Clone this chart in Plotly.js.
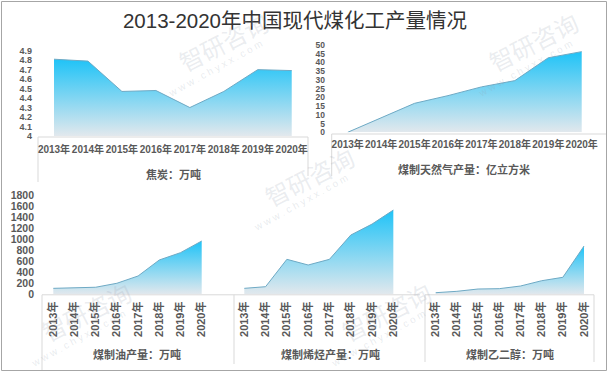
<!DOCTYPE html>
<html><head><meta charset="utf-8">
<script src="https://cdn.plot.ly/plotly-3.0.1.min.js"></script>
<style>html,body{margin:0;padding:0;background:#fff}#chart{width:608px;height:372px}</style>
</head><body><div id="chart"></div>
<script>
// ---- data ----
const years = ['2013年','2014年','2015年','2016年','2017年','2018年','2019年','2020年'];
const coke   = [4.81, 4.79, 4.47, 4.48, 4.30, 4.47, 4.70, 4.69];   // 焦炭：万吨
const sng    = [0, 8.3, 16.6, 21.0, 26.0, 29.6, 42.7, 46.2];       // 煤制天然气：亿立方米
const oil    = [108, 115, 128, 200, 332, 622, 755, 966];           // 煤制油：万吨
const olefin = [108, 138, 634, 531, 634, 1074, 1273, 1527];        // 煤制烯烃：万吨
const glycol = [29, 54, 96, 102, 150, 246, 308, 875];              // 煤制乙二醇：万吨
const cokeTickVals = [4, 4.1, 4.2, 4.3, 4.4, 4.5, 4.6, 4.7, 4.8, 4.9];
const cokeTickText = ['4','4.1','4.2','4.3','4.4','4.5','4.6','4.7','4.8','4.9'];
const sngTickVals  = [0,5,10,15,20,25,30,35,40,45,50];
const bigTickVals  = [0,200,400,600,800,1000,1200,1400,1600,1800];
const chartTitle = '2013-2020年中国现代煤化工产量情况';
const axisTitles = ['焦炭：万吨','煤制天然气产量：亿立方米','煤制油产量：万吨','煤制烯烃产量：万吨','煤制乙二醇：万吨'];

// ---- helpers ----
const W = 608, H = 372;
const px = x => x / W, py = y => 1 - y / H;
const FONT = 'Liberation Sans, Noto Sans CJK SC, sans-serif';
const GREY = '#595959';

function xAxis(L, R, c0, step, opt) {
  return Object.assign({
    type: 'category', categoryorder: 'array', categoryarray: years,
    domain: [px(L), px(R)], range: [(L - c0) / step, (R - c0) / step],
    showgrid: false, zeroline: false, showline: false, ticks: '', fixedrange: true,
    tickangle: 0,
    tickfont: {family: FONT, size: 10, color: GREY, weight: 'bold'}
  }, opt);
}
function yAxis(B, T, base, ppu, opt) {
  return Object.assign({
    domain: [py(B), py(T)], range: [base, base + (B - T) / ppu],
    showgrid: false, zeroline: false, showline: false, ticks: '', fixedrange: true,
    tickfont: {family: FONT, size: 10, color: GREY, weight: 'bold'}
  }, opt);
}
function area(y, xa, ya, base) {
  return {
    type: 'scatter', mode: 'lines', x: years, y: y, xaxis: xa, yaxis: ya,
    fill: 'tozeroy', line: {color: '#6ea9c4', width: 1}, hoverinfo: 'skip',
    fillgradient: {type: 'vertical', start: base, stop: Math.max(...y),
      colorscale: [[0, '#e2e8ed'], [1, '#1fc3f7']]}
  };
}

const data = [
  area(coke, 'x', 'y', 4),
  area(sng, 'x2', 'y2', 0),
  area(oil, 'x3', 'y3', 0),
  area(olefin, 'x4', 'y4', 0),
  area(glycol, 'x5', 'y5', 0)
];

const rotFont = {family: FONT, size: 11, color: GREY, weight: 'bold'};
const layout = {
  width: W, height: H, margin: {l: 0, r: 0, t: 0, b: 0},
  paper_bgcolor: '#ffffff', plot_bgcolor: 'rgba(0,0,0,0)', showlegend: false,
  title: {text: chartTitle, x: px(295), xanchor: 'center', y: py(21), yanchor: 'middle',
    font: {family: FONT, size: 20.5, color: '#333333'}},
  xaxis:  xAxis(33, 306, 54, 33.96, {anchor: 'y', ticklabelstandoff: 6}),
  yaxis:  yAxis(136, 45, 4, 94.8, {anchor: 'x', tickvals: cokeTickVals, ticktext: cokeTickText,
    tickfont: {family: FONT, size: 9, color: GREY, weight: 'bold'}}),
  xaxis2: xAxis(326, 604, 347.7, 33.43, {anchor: 'y2', ticklabelstandoff: 5}),
  yaxis2: yAxis(132.3, 42, 0, 1.746, {anchor: 'x2', tickvals: sngTickVals,
    tickfont: {family: FONT, size: 8.5, color: GREY, weight: 'bold'}}),
  xaxis3: xAxis(35, 218, 53.3, 21.2, {anchor: 'y3', tickangle: -90, ticklabelstandoff: 4, tickfont: rotFont}),
  yaxis3: yAxis(294.3, 188, 0, 0.05517, {anchor: 'x3', tickvals: bigTickVals,
    tickfont: {family: FONT, size: 10.5, color: GREY, weight: 'bold'}}),
  xaxis4: xAxis(226, 414, 244.3, 21.29, {anchor: 'y4', tickangle: -90, ticklabelstandoff: 4, tickfont: rotFont}),
  yaxis4: yAxis(294.3, 188, 0, 0.05517, {anchor: 'x4', showticklabels: false}),
  xaxis5: xAxis(418, 600, 435.7, 21.19, {anchor: 'y5', tickangle: -90, ticklabelstandoff: 4, tickfont: rotFont}),
  yaxis5: yAxis(294.3, 188, 0, 0.05517, {anchor: 'x5', showticklabels: false}),
  shapes: [],
  annotations: []
};

// frame and label boxes
const box = '#d9d9d9';
function seg(x0, y0, x1, y1, c) {
  layout.shapes.push({type: 'line', xref: 'paper', yref: 'paper', x0: px(x0), y0: py(y0), x1: px(x1), y1: py(y1),
    line: {color: c || box, width: 1}, layer: 'below'});
}
seg(38, 137, 308, 137); seg(38, 137, 38, 182); seg(308, 137, 308, 176);
seg(331.7, 134, 606, 134); seg(331.7, 134, 331.7, 176);
seg(42, 294.8, 220, 294.8); seg(42, 294.8, 42, 370);
seg(220, 294.8, 420, 294.8); seg(234, 294.8, 234, 364);
seg(425, 294.8, 594, 294.8); seg(425, 294.8, 425, 362); seg(594, 294.8, 594, 362);
layout.shapes.push({type: 'rect', xref: 'paper', yref: 'paper', x0: px(1.5), y0: py(1.5), x1: px(606.5), y1: py(370.5),
  line: {color: '#a6a6a6', width: 1}, layer: 'above'});

// axis titles
const titlePos = [[173, 174], [464, 169], [137, 354], [330, 354], [510, 354]];
axisTitles.forEach((t, i) => {
  layout.annotations.push({text: t, xref: 'paper', yref: 'paper', x: px(titlePos[i][0]), y: py(titlePos[i][1]),
    xanchor: 'center', yanchor: 'middle', showarrow: false,
    font: {family: FONT, size: 11, color: GREY, weight: 'bold'}});
});

// faint watermark (brand text of the source)
const wmLogos = [[157, 73], [467, 73], [243, 208], [20, 343], [320, 343]];
wmLogos.forEach(([lx, ly]) => {
  layout.annotations.push({text: '智研咨询', xref: 'paper', yref: 'paper', x: px(lx + 66), y: py(ly - 32),
    xanchor: 'center', yanchor: 'middle', showarrow: false, textangle: -27,
    font: {family: 'Noto Sans CJK SC, sans-serif', size: 24, color: 'rgba(150,160,175,0.2)'}});
  layout.annotations.push({text: 'w w w . c h y x x . c o m', xref: 'paper', yref: 'paper', x: px(lx + 58), y: py(ly - 5),
    xanchor: 'center', yanchor: 'middle', showarrow: false, textangle: -29,
    font: {family: FONT, size: 10, color: 'rgba(150,160,175,0.22)'}});
});

Plotly.newPlot('chart', data, layout, {displayModeBar: false, staticPlot: true});
</script></body></html>
